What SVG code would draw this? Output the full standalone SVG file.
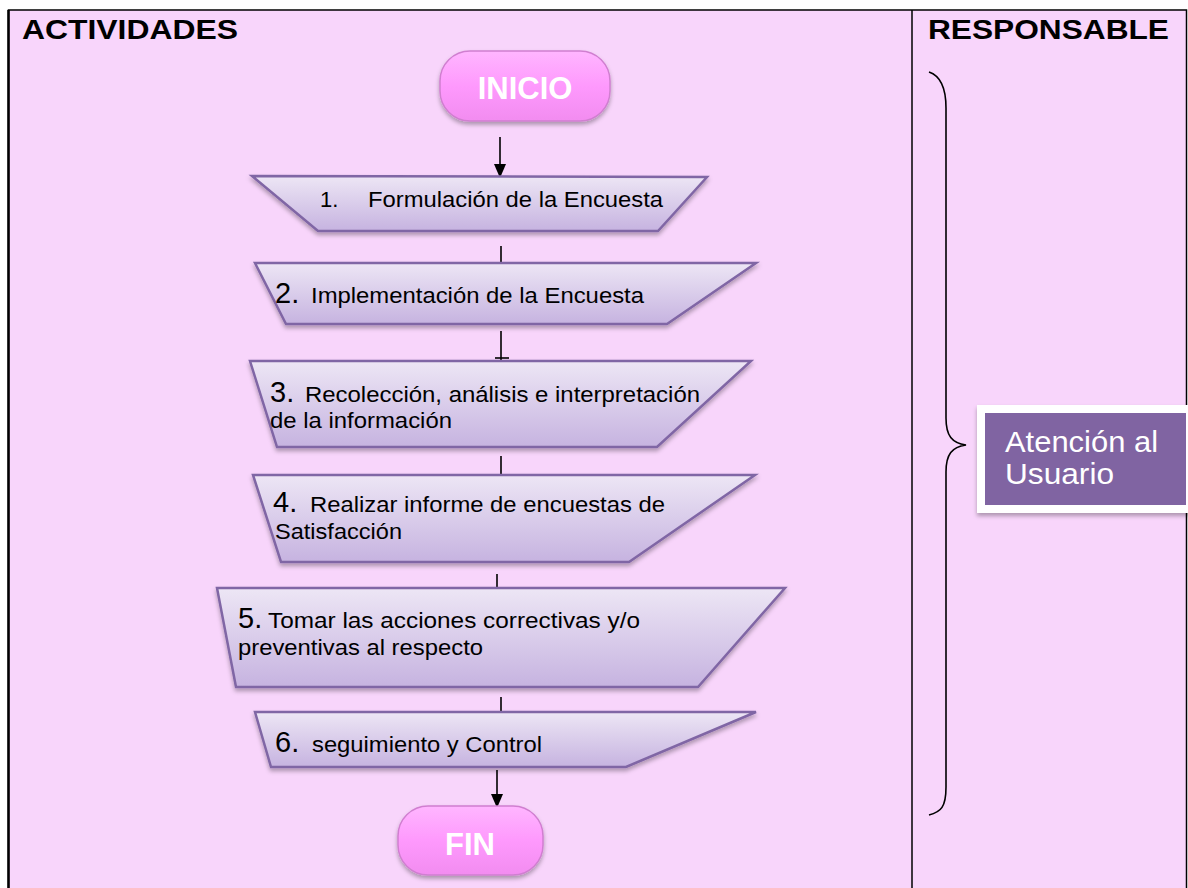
<svg xmlns="http://www.w3.org/2000/svg" width="1188" height="888" viewBox="0 0 1188 888">
<style>
.hdr{font-family:"Liberation Sans",Arial,sans-serif;font-weight:bold;font-size:27px;fill:#000}
.term{font-family:"Liberation Sans",Arial,sans-serif;font-weight:bold;font-size:31px;fill:#fff;text-anchor:middle}
.num{font-family:"Liberation Sans",Arial,sans-serif;font-size:29px;fill:#000}
.lbl{font-family:"Liberation Sans",Arial,sans-serif;font-size:22px;fill:#000}
.proc{fill:url(#gProc);stroke:#8066A5;stroke-width:2.5;filter:url(#sh)}
.pill{fill:url(#gPill);stroke:#D07FD0;stroke-width:1.5;filter:url(#sh)}
.conn{stroke:#000;stroke-width:1.6;fill:none}
.resp{font-family:"Liberation Sans",Arial,sans-serif;font-size:30px;fill:#fff}
</style>
<defs>
<linearGradient id="gProc" x1="0" y1="0" x2="0" y2="1">
<stop offset="0" stop-color="#EDE6F5"/>
<stop offset="1" stop-color="#C6B3E0"/>
</linearGradient>
<linearGradient id="gPill" x1="0" y1="0" x2="0" y2="1">
<stop offset="0" stop-color="#FFB6FF"/>
<stop offset="0.5" stop-color="#FE99FD"/>
<stop offset="1" stop-color="#F28CF0"/>
</linearGradient>
<filter id="sh" x="-10%" y="-20%" width="120%" height="150%">
<feDropShadow dx="0" dy="3" stdDeviation="2" flood-color="#000" flood-opacity="0.3"/>
</filter>
<marker id="arr" viewBox="0 0 14 12" refX="14" refY="6" markerWidth="14" markerHeight="12" orient="auto" markerUnits="userSpaceOnUse">
<path d="M0,0 L14,6 L0,12 z" fill="#000"/>
</marker>
</defs>

<g id="table">
<rect x="8.5" y="10" width="1178" height="890" fill="#F8D5FB" stroke="#000" stroke-width="1.5"/>
<line x1="8.5" y1="10" x2="8.5" y2="888" stroke="#000" stroke-width="2.5"/>
<line x1="912" y1="10" x2="912" y2="888" stroke="#000" stroke-width="1.5"/>
<text class="hdr" x="22" y="39" textLength="216" lengthAdjust="spacingAndGlyphs">ACTIVIDADES</text>
<text class="hdr" x="928" y="39" textLength="241" lengthAdjust="spacingAndGlyphs">RESPONSABLE</text>
</g>

<g id="connectors">
<line class="conn" x1="500" y1="137" x2="500" y2="178" marker-end="url(#arr)"/>
<line class="conn" x1="501" y1="246" x2="501" y2="263"/>
<line class="conn" x1="501" y1="331" x2="501" y2="361"/>
<line class="conn" x1="495" y1="358" x2="509" y2="358"/>
<line class="conn" x1="501" y1="456" x2="501" y2="475"/>
<line class="conn" x1="497" y1="574" x2="497" y2="588"/>
<line class="conn" x1="501" y1="697" x2="501" y2="712"/>
<line class="conn" x1="497" y1="770" x2="497" y2="808" marker-end="url(#arr)"/>
</g>

<g id="inicio">
<rect class="pill" x="440" y="51" width="170" height="70" rx="30" ry="30"/>
<text class="term" x="525" y="99">INICIO</text>
</g>

<g id="step1">
<polygon class="proc" points="252,176 707,177 658,231 318,231"/>
<text class="lbl" x="320" y="207">1.</text>
<text class="lbl" x="368" y="207" textLength="295" lengthAdjust="spacingAndGlyphs">Formulación de la Encuesta</text>
</g>

<g id="step2">
<polygon class="proc" points="255,263 756,263 667,324 286,324"/>
<text class="num" x="275" y="303">2.</text>
<text class="lbl" x="311" y="303" textLength="333" lengthAdjust="spacingAndGlyphs">Implementación de la Encuesta</text>
</g>

<g id="step3">
<polygon class="proc" points="250,361 751,361 657,447 277,447"/>
<text class="num" x="270" y="402">3.</text>
<text class="lbl" x="305" y="402" textLength="395" lengthAdjust="spacingAndGlyphs">Recolección, análisis e interpretación</text>
<text class="lbl" x="270" y="428" textLength="182" lengthAdjust="spacingAndGlyphs">de la información</text>
</g>

<g id="step4">
<polygon class="proc" points="253,475 755,475 629,562 281,562"/>
<text class="num" x="273" y="512">4.</text>
<text class="lbl" x="310" y="512" textLength="355" lengthAdjust="spacingAndGlyphs">Realizar informe de encuestas de</text>
<text class="lbl" x="275" y="539" textLength="127" lengthAdjust="spacingAndGlyphs">Satisfacción</text>
</g>

<g id="step5">
<polygon class="proc" points="217,588 785,588 698,687 236,687"/>
<text class="num" x="238" y="628">5.</text>
<text class="lbl" x="268" y="628" textLength="372" lengthAdjust="spacingAndGlyphs">Tomar las acciones correctivas y/o</text>
<text class="lbl" x="238" y="655" textLength="245" lengthAdjust="spacingAndGlyphs">preventivas al respecto</text>
</g>

<g id="step6">
<polygon class="proc" points="255,712 756,712 626,767 271,767"/>
<text class="num" x="275" y="752">6.</text>
<text class="lbl" x="312" y="752" textLength="230" lengthAdjust="spacingAndGlyphs">seguimiento y Control</text>
</g>

<g id="fin">
<rect class="pill" x="398" y="806" width="145" height="69" rx="30" ry="30"/>
<text class="term" x="470" y="855">FIN</text>
</g>

<g id="brace">
<path d="M929,72 C941,76 946,88 946,108 L946,418 C946,436 952,443 966,445 C952,447 946,454 946,472 L946,787 C946,807 941,812 929,815" fill="none" stroke="#000" stroke-width="1.6"/>
</g>

<g id="responsable">
<rect x="977" y="405" width="220" height="108" fill="#fff" filter="url(#sh)"/>
<rect x="985" y="413" width="201" height="92" fill="#8064A2"/>
<text class="resp" x="1005" y="452" textLength="153" lengthAdjust="spacingAndGlyphs">Atención al</text>
<text class="resp" x="1005" y="484" textLength="109" lengthAdjust="spacingAndGlyphs">Usuario</text>
</g>
</svg>
